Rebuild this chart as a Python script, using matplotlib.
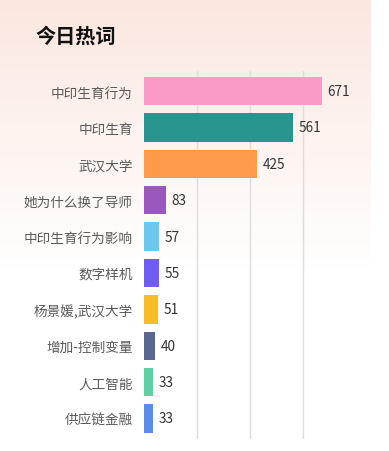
import numpy as np
import matplotlib
matplotlib.use("Agg")
import matplotlib.pyplot as plt

plt.rcParams['font.family'] = ['Noto Sans CJK SC', 'DejaVu Sans']

### DATA ###
words = ["中印生育行为", "中印生育", "武汉大学", "她为什么换了导师", "中印生育行为影响",
         "数字样机", "杨景媛,武汉大学", "增加-控制变量", "人工智能", "供应链金融"]
counts = [671, 561, 425, 83, 57, 55, 51, 40, 33, 33]
colors = ["#FA9AC6", "#28968F", "#FF9A4A", "#9A58BF", "#6EC5EE",
          "#6E5CF4", "#F8BD25", "#5C6790", "#5FD0A4", "#5B8CEC"]

W, H = 389, 452
fig = plt.figure(figsize=(W / 100, H / 100), dpi=100)

# card background: peach fading to white
bg = fig.add_axes([0, 0, 371 / W, 1], zorder=0)
t = np.linspace(0, 1, 256)
top = np.array([251, 231, 223]) / 255
bot = np.array([255, 255, 255]) / 255
mix = np.clip(t / 0.6, 0, 1)[:, None]
grad = top * (1 - mix) + bot * mix
bg.imshow(grad[:, None, :], aspect='auto', extent=[0, 1, 0, 1])
bg.axis('off')

fig.text(35 / W, 1 - 36 / H, "今日热词", fontsize=14.5, fontweight='bold',
         color='#111111', va='center', ha='left')

# main chart
ax = fig.add_axes([144 / W, 12.5 / H, (371 - 144) / W, 367.5 / H], zorder=1)
ax.patch.set_alpha(0)
y = np.arange(len(words))
ax.barh(y, counts, height=0.78, color=colors, zorder=2)
for yi, c in zip(y, counts):
    ax.text(c + 22, yi, str(c), va='center', ha='left', fontsize=9.8, color='#333333')

ax.set_ylim(len(words) - 0.45, -0.55)
ax.set_xlim(0, 857)
ax.set_xticks([200, 400, 600])
ax.set_yticks(y)
ax.set_yticklabels(words, fontsize=9.8, color='#5a5a5a')
ax.tick_params(axis='y', length=0, pad=8)
ax.tick_params(axis='x', length=0, labelbottom=False)
ax.grid(axis='x', color='#dddddd', linewidth=1, zorder=0)
for s in ax.spines.values():
    s.set_visible(False)

fig.savefig("out.png", dpi=100)
